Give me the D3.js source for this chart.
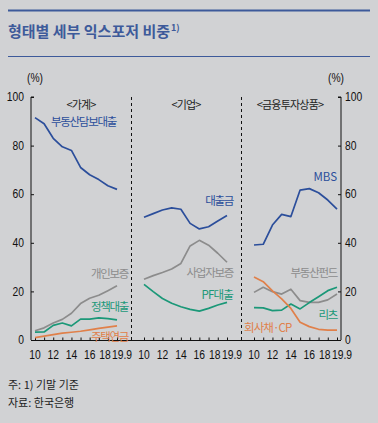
<!DOCTYPE html>
<html><head><meta charset="utf-8">
<script src="https://cdn.jsdelivr.net/npm/d3@7"></script>
<style>
html,body{margin:0;padding:0;background:#d1d2d4;}
svg{display:block;}
.num{font-family:"Liberation Sans Narrow","Arial Narrow","Liberation Sans",sans-serif;font-size:12px;fill:#111;}
.kr{font-family:"Noto Sans CJK KR","Noto Sans",sans-serif;}
</style></head>
<body><svg id="c" width="378" height="423"></svg>
<script>
const xLabels = ["10","11","12","13","14","15","16","17","18","19.9"];
const shownLabels = ["10","12","14","16","18","19.9"];
const yTicks = [0,20,40,60,80,100];
const panelTitles = ["<가계>","<기업>","<금융투자상품>"];

// 가계
const mortgage = [91.5,89,83,79.5,78,71,68,66,63.5,62];
const personalGuarantee = [3.8,5,7,8.5,11,15,17.2,18.4,20.3,22.3];
const policyLoan = [3.2,3.3,6,7,5.8,8.6,8.6,9.1,8.8,8.3];
const reverseMortgage = [1.0,1.6,2.2,2.8,3.2,3.6,4.2,4.8,5.3,5.8];
// 기업
const corpLoan = [50.5,52,53.5,54.4,53.8,48,45.7,46.6,49,51.2];
const bizGuarantee = [25,26.5,27.8,29.2,31.5,38.7,41,39,35.7,32];
const pfLoan = [22.9,19.9,17.1,15.1,13.7,12.6,11.9,13,14.4,15.5];
// 금융투자상품
const mbs = [39.1,39.4,47.3,51.7,50.8,61.7,62.3,60.6,57.6,53.9];
const reFund = [19.6,21.7,19.9,18.9,20.9,16.2,15.5,15.5,16.5,18.9];
const reits = [13.3,13.2,12.1,12.3,14.8,12.8,15.4,17.8,20.3,21.7];
const corpBondCP = [25.9,24,20.2,16.9,13,7.3,5.5,4.4,4.1,4.1];

const C = {blue:"#2b4e9b", grey:"#8c8c8c", green:"#1b9878", orange:"#e0804a"};

const panels = [
  {title:panelTitles[0], range:[35,117], titleX:81,
   series:[
    {name:"부동산담보대출", data:mortgage, color:C.blue, lx:116, ly:122, anchor:"end", ls:-1.3},
    {name:"개인보증", data:personalGuarantee, color:C.grey, lx:128, ly:274, anchor:"end", ls:-1.3},
    {name:"정책대출", data:policyLoan, color:C.green, lx:128, ly:307, anchor:"end", ls:-1.3},
    {name:"주택연금", data:reverseMortgage, color:C.orange, lx:128, ly:337, anchor:"end", ls:-1.3}]},
  {title:panelTitles[1], range:[144,227], titleX:186,
   series:[
    {name:"대출금", data:corpLoan, color:C.blue, lx:233, ly:201, anchor:"end", ls:-1.3},
    {name:"사업자보증", data:bizGuarantee, color:C.grey, lx:233, ly:273, anchor:"end", ls:-1.3},
    {name:"PF대출", data:pfLoan, color:C.green, lx:233, ly:295, anchor:"end", ls:-0.8}]},
  {title:panelTitles[2], range:[254,337], titleX:290,
   series:[
    {name:"MBS", data:mbs, color:C.blue, lx:337, ly:177, anchor:"end", ls:0},
    {name:"부동산펀드", data:reFund, color:C.grey, lx:337, ly:273, anchor:"end", ls:-1.3},
    {name:"리츠", data:reits, color:C.green, lx:337, ly:315, anchor:"end", ls:-1.3},
    {name:"회사채·CP", data:corpBondCP, color:C.orange, lx:244, ly:328, anchor:"start", ls:-0.9}]}
];

const svg = d3.select("#c");
const pLeft = 31, pRight = 341, pTop = 97, pBottom = 340;
const dividers = [131, 241];
const y = d3.scaleLinear().domain([0,100]).range([pBottom, pTop]);

function numText(x0, y0, txt, anchor){
  svg.append("text").attr("class","num")
    .attr("transform",`translate(${x0},${y0}) scale(0.86,1)`)
    .attr("dy","0.35em").attr("text-anchor",anchor).text(txt);
}

// Title
svg.append("line").attr("x1",8).attr("x2",370).attr("y1",10.5).attr("y2",10.5).attr("stroke","#3d5a9a").attr("stroke-width",2);
const t = svg.append("text").attr("class","kr").attr("x",8).attr("y",37).attr("fill","#3d5a9a").attr("font-size",15).attr("font-weight",700);
t.append("tspan").text("형태별 세부 익스포저 비중");
t.append("tspan").attr("font-size",9).attr("dy",-6).attr("dx",1).text("1)");
svg.append("line").attr("x1",8).attr("x2",370).attr("y1",56.5).attr("y2",56.5).attr("stroke","#3d5a9a").attr("stroke-width",1);

// (%) labels
numText(35, 78, "(%)", "middle");
numText(336, 78, "(%)", "middle");

// Y axes
const yl = svg.append("g").attr("transform",`translate(${pLeft},0)`)
  .call(d3.axisRight(y).tickValues(yTicks).tickSize(3).tickFormat(""));
yl.select(".domain").attr("d",`M3,${pTop}H0V${pBottom}`);
yTicks.forEach(v=> numText(24, y(v), v, "end"));
const yr = svg.append("g").attr("transform",`translate(${pRight},0)`)
  .call(d3.axisLeft(y).tickValues(yTicks).tickSize(3).tickFormat(""));
yr.select(".domain").attr("d",`M-3,${pTop}H0V${pBottom}`);
yTicks.forEach(v=> numText(345, y(v), v, "start"));
svg.selectAll(".tick line").attr("stroke","#111");
svg.selectAll(".domain").attr("stroke","#111");

// bottom axis line
svg.append("line").attr("x1",pLeft).attr("x2",pRight).attr("y1",pBottom+0.5).attr("y2",pBottom+0.5).attr("stroke","#111");

// dividers
dividers.forEach(dx=>{
  svg.append("line").attr("x1",dx+0.5).attr("x2",dx+0.5).attr("y1",pTop).attr("y2",pBottom)
    .attr("stroke","#111").attr("stroke-dasharray","3,3");
});

const labelShift = {"18":-3, "19.9":5};
panels.forEach(p=>{
  const x = d3.scalePoint().domain(xLabels).range(p.range);
  const g = svg.append("g").attr("transform",`translate(0,${pBottom+0.5})`)
    .call(d3.axisTop(x).tickSize(3).tickFormat(""));
  g.select(".domain").remove();
  g.selectAll(".tick line").attr("stroke","#111");
  shownLabels.forEach(l=> numText(x(l) + (labelShift[l]||0), 355, l, "middle"));
  svg.append("text").attr("class","kr").attr("x",p.titleX).attr("y",105).attr("dy","0.35em")
    .attr("text-anchor","middle").attr("font-size",11).attr("letter-spacing",-0.8).attr("fill","#222").text(p.title);
  const line = d3.line().x((d,i)=>x(xLabels[i])).y(d=>y(d)).curve(d3.curveLinear);
  p.series.forEach(s=>{
    svg.append("path").datum(s.data).attr("d",line).attr("fill","none")
      .attr("stroke",s.color).attr("stroke-width",1.7).attr("stroke-linejoin","round");
  });
  p.series.forEach(s=>{
    svg.append("text").attr("class","kr").attr("x",s.lx).attr("y",s.ly).attr("dy","0.35em")
      .attr("text-anchor",s.anchor).attr("font-size",11.5).attr("letter-spacing",s.ls).attr("fill",s.color).text(s.name);
  });
});

// footer
svg.append("text").attr("class","kr").attr("x",8).attr("y",385).attr("dy","0.35em").attr("font-size",11).attr("fill","#222").text("주: 1) 기말 기준");
svg.append("text").attr("class","kr").attr("x",8).attr("y",403).attr("dy","0.35em").attr("font-size",11).attr("fill","#222").text("자료: 한국은행");
</script></body></html>
